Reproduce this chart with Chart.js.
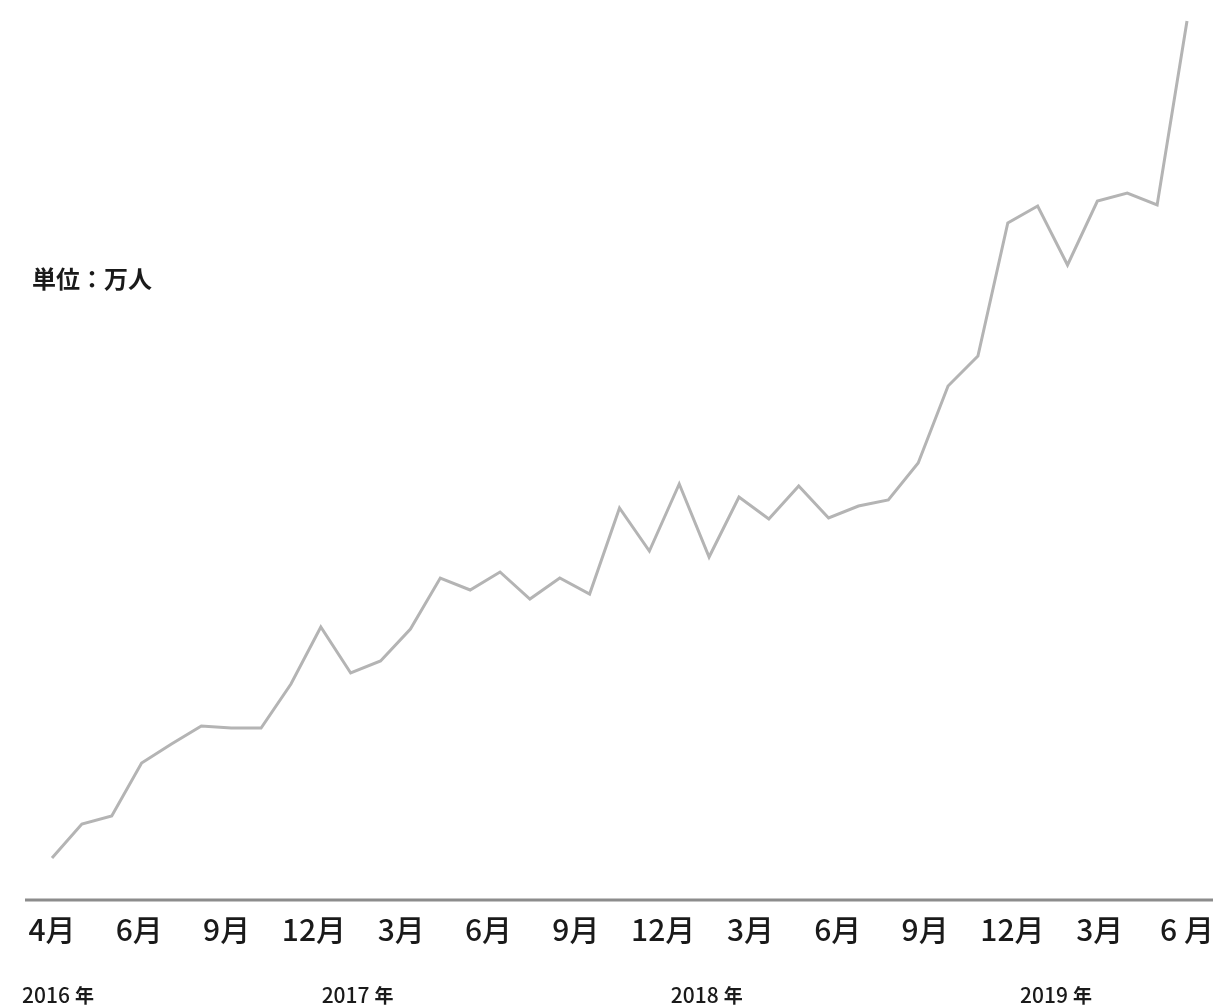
<!DOCTYPE html>
<html lang="ja">
<head>
<meta charset="utf-8">
<title>単位：万人</title>
<script src="https://cdn.jsdelivr.net/npm/chart.js@4/dist/chart.umd.min.js"></script>
<style>
  html, body { margin: 0; padding: 0; background: #ffffff; }
  #wrap { position: relative; width: 1218px; height: 1005px; }
</style>
</head>
<body>
<div id="wrap"><canvas id="chart"></canvas></div>
<script>
// Monthly series, April 2016 – June 2019
const months = [
  '2016/4','2016/5','2016/6','2016/7','2016/8','2016/9','2016/10','2016/11','2016/12',
  '2017/1','2017/2','2017/3','2017/4','2017/5','2017/6','2017/7','2017/8','2017/9','2017/10','2017/11','2017/12',
  '2018/1','2018/2','2018/3','2018/4','2018/5','2018/6','2018/7','2018/8','2018/9','2018/10','2018/11','2018/12',
  '2019/1','2019/2','2019/3','2019/4','2019/5','2019/6'
];

// Users (万人)
const users = [
  4.2, 7.6, 8.4, 13.7, 15.6, 17.4, 17.2, 17.2, 21.6,
  27.3, 22.7, 23.9, 27.1, 32.2, 31.0, 32.8, 30.1, 32.2, 30.6, 39.2, 34.9,
  41.6, 34.3, 40.3, 38.1, 41.4, 38.2, 39.4, 40.0, 43.7, 51.4, 54.4, 67.7,
  69.4, 63.5, 69.9, 70.7, 69.5, 87.9
];

// Axis tick labels along the bottom
const tickLabels = ['4月','6月','9月','12月','3月','6月','9月','12月','3月','6月','9月','12月','3月','6 月'];

// Year captions under the month labels
const yearLabels = ['2016', '2017', '2018', '2019'];
const unitLabel = '単位：万人';

const CJK = '"Noto Sans CJK JP", "Noto Sans CJK SC", "Noto Sans", sans-serif';

// Baseline, unit caption and year captions
const decorations = {
  id: 'decorations',
  beforeDatasetsDraw(chart) {
    const { ctx, chartArea } = chart;
    const yScale = chart.scales.y;
    const y0 = yScale.getPixelForValue(0);
    ctx.save();
    ctx.strokeStyle = '#8c8c8c';
    ctx.lineWidth = 3;
    ctx.beginPath();
    ctx.moveTo(chartArea.left - 27, y0);
    ctx.lineTo(chartArea.right + 26, y0);
    ctx.stroke();
    ctx.restore();
  },
  afterDraw(chart) {
    const { ctx } = chart;
    const x2 = chart.scales.x2;
    ctx.save();
    ctx.fillStyle = '#1a1a1a';
    ctx.textBaseline = 'middle';
    ctx.font = 'bold 24px ' + CJK;
    ctx.textAlign = 'left';
    ctx.fillText(unitLabel, 32, 279);

    // year captions: the first starts under the first month label,
    // the rest sit between the 12月 and 3月 labels
    const yY = 995;
    const numFont = '500 21px ' + CJK;
    const nenFont = 'bold 19px ' + CJK;
    const drawYear = (text, x, align) => {
      ctx.font = numFont;
      const wNum = ctx.measureText(text).width;
      ctx.font = nenFont;
      const wNen = ctx.measureText('年').width;
      const gap = 5;
      const total = wNum + gap + wNen;
      const left = align === 'left' ? x : x - total / 2;
      ctx.textAlign = 'left';
      ctx.font = numFont;
      ctx.fillText(text, left, yY);
      ctx.font = nenFont;
      ctx.fillText('年', left + wNum + gap, yY + 1);
    };
    drawYear(yearLabels[0], x2.getPixelForTick(0) - 30, 'left');
    const decIdx = [3, 7, 11];
    decIdx.forEach((i, k) => {
      const xm = (x2.getPixelForTick(i) + x2.getPixelForTick(i + 1)) / 2;
      drawYear(yearLabels[k + 1], xm, 'center');
    });
    ctx.restore();
  }
};

new Chart(document.getElementById('chart'), {
  type: 'line',
  data: {
    labels: months,
    datasets: [{
      data: users,
      xAxisID: 'x',
      yAxisID: 'y',
      borderColor: '#b4b4b4',
      borderWidth: 3,
      pointRadius: 0,
      tension: 0,
      fill: false,
      clip: false
    }]
  },
  options: {
    responsive: true,
    maintainAspectRatio: false,
    animation: false,
    layout: { padding: { left: 52, right: 31, top: 0, bottom: 0 } },
    plugins: {
      legend: { display: false },
      tooltip: { enabled: false },
      title: { display: false }
    },
    scales: {
      x: {
        type: 'category',
        display: false,
        offset: false
      },
      x2: {
        type: 'category',
        position: 'bottom',
        labels: tickLabels,
        offset: false,
        grid: { display: false, drawTicks: false },
        border: { display: false },
        ticks: {
          autoSkip: false,
          maxRotation: 0,
          padding: 12,
          color: '#1a1a1a',
          font: { family: CJK, size: 30, weight: '500' }
        },
        afterFit(scale) {
          scale.height = 105;
          scale.paddingLeft = 0;
          scale.paddingRight = 0;
        }
      },
      y: {
        display: false,
        min: 0,
        max: 90
      }
    }
  },
  plugins: [decorations]
});
</script>
</body>
</html>
